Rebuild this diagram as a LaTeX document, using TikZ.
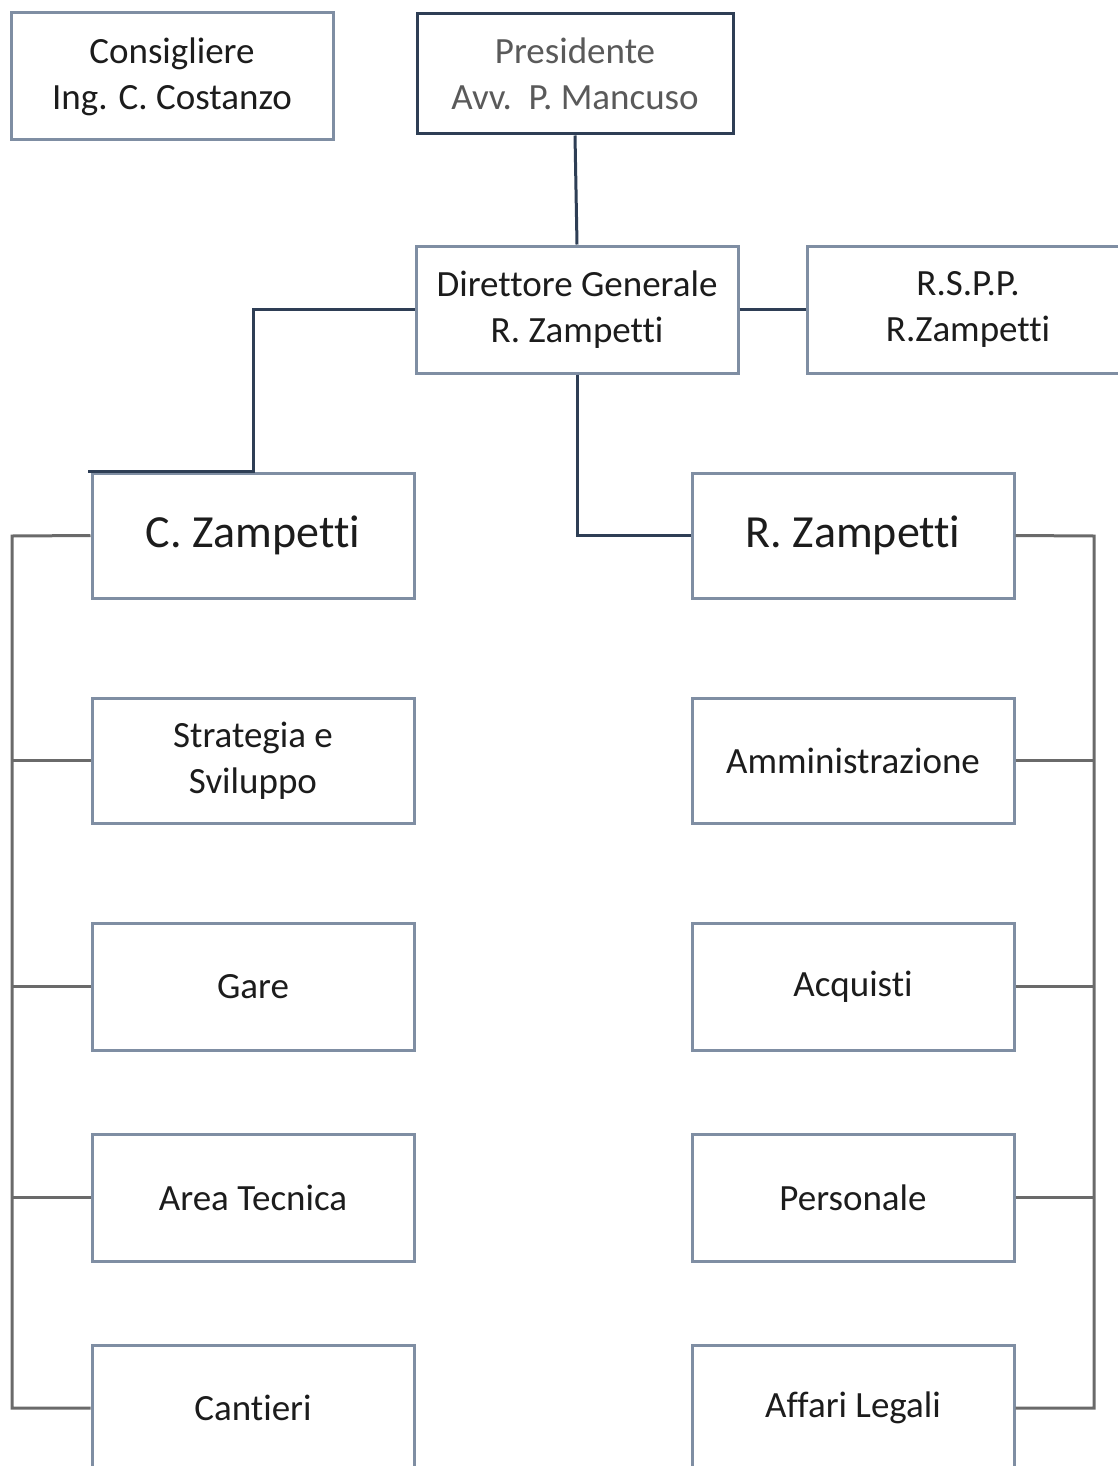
\documentclass[tikz,border=0pt]{standalone}
\usepackage{fontspec}
\setmainfont[Ligatures={NoCommon}]{Carlito}
\definecolor{boxline}{HTML}{7F8EA3}
\definecolor{darkline}{HTML}{2E3E55}
\definecolor{busline}{HTML}{6A6A6A}
\definecolor{txt}{HTML}{1C1C1C}
\definecolor{prestxt}{HTML}{5A5A5A}
\begin{document}
\begin{tikzpicture}[x=1pt,y=-1pt,
  orgbox/.style={draw=boxline,line width=3pt,fill=white,rectangle,inner sep=0pt,
    minimum width=322pt,minimum height=127pt,align=center,text=txt,
    font=\fontsize{37}{46}\selectfont},
  bigbox/.style={orgbox,font=\fontsize{46}{54}\selectfont,minimum height=125pt},
  dconn/.style={draw=darkline,line width=3pt},
  bconn/.style={draw=busline,line width=3pt}]
\useasboundingbox (0,0) rectangle (1118,1466);
\clip (0,0) rectangle (1118,1466);
\fill[white] (0,0) rectangle (1118,1466);

% coordinates for bus lines
\coordinate (lt) at (12,536);
\coordinate (lb) at (12,1408);
\coordinate (rt) at (1094,536);
\coordinate (rb) at (1094,1408);
\coordinate (czl) at (88,473);

% nodes
\node[orgbox] (cons) at (172,76.5) {Consigliere\\Ing. C. Costanzo};
\node[orgbox,draw=darkline,minimum width=316pt,minimum height=120pt,text=prestxt] (pres) at (575,74) {Presidente\\Avv.\ \ P. Mancuso};
\node[orgbox] (dir) at (577,309.5) {Direttore Generale\\R. Zampetti};
\node[orgbox] (rspp) at (968,309.5) {R.S.P.P.\\R.Zampetti};
\node[bigbox] (cz) at (253,535.5) {C. Zampetti};
\node[bigbox] (rz) at (853,535.5) {R. Zampetti};

\node[orgbox,minimum height=125pt] (strat) at (253,760.5) {Strategia e\\Sviluppo};
\node[orgbox] (gare) at (253,986.5) {Gare};
\node[orgbox] (area) at (253,1197.5) {Area Tecnica};
\node[orgbox,minimum height=126pt] (cant) at (253,1408) {Cantieri};

\node[orgbox,minimum height=125pt] (amm) at (853,760.5) {Amministrazione};
\node[orgbox] (acq) at (853,986.5) {Acquisti};
\node[orgbox] (pers) at (853,1197.5) {Personale};
\node[orgbox,minimum height=126pt] (aff) at (853,1408) {Affari Legali};

% connectors
\draw[dconn] (pres.south) -- (dir.north);
\draw[dconn] (dir.west) -| (cz.north) -- (cz.north -| czl);
\draw[dconn] (dir.east) -- (rspp.west);
\draw[dconn] (dir.south) |- (rz.west);

\draw[bconn] (cz.west) -- (lt) -- (lb) -- (cant.west);
\draw[bconn] (strat.west) -- (strat.west -| lt);
\draw[bconn] (gare.west) -- (gare.west -| lt);
\draw[bconn] (area.west) -- (area.west -| lt);

\draw[bconn] (rz.east) -- (rt) -- (rb) -- (aff.east);
\draw[bconn] (amm.east) -- (amm.east -| rt);
\draw[bconn] (acq.east) -- (acq.east -| rt);
\draw[bconn] (pers.east) -- (pers.east -| rt);
\end{tikzpicture}
\end{document}
